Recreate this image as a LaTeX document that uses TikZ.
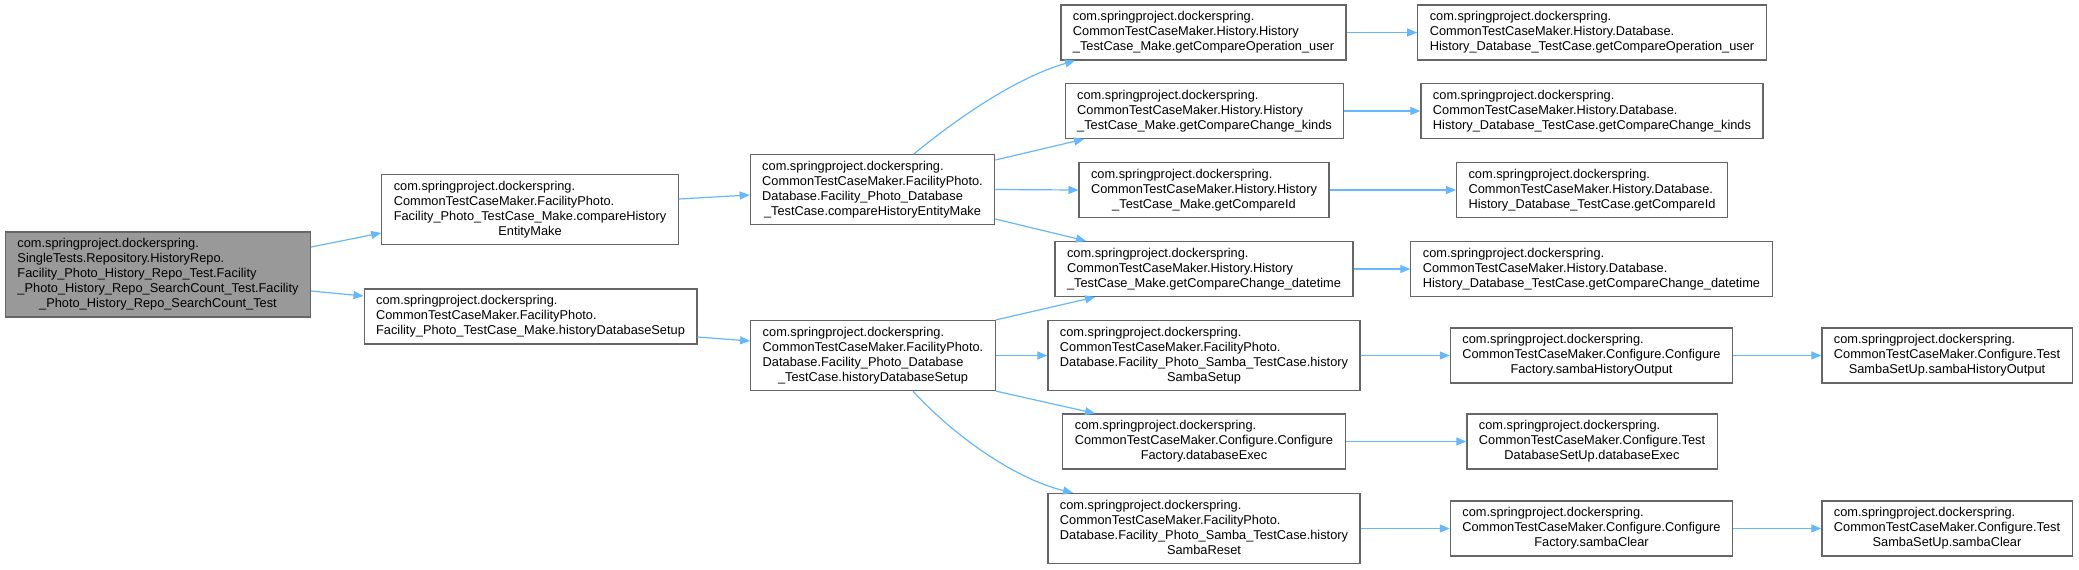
\documentclass[tikz,border=0pt]{standalone}
\usepackage{fontspec}
\setmainfont{Liberation Sans}
\usepackage{tikz}
\usepackage{xcolor}
\usetikzlibrary{arrows.meta, positioning, calc}
\definecolor{edgeblue}{HTML}{63B8FF}
\definecolor{boxgray}{HTML}{666666}
\definecolor{rootgray}{HTML}{999999}
% righe allineate a sinistra, ultima riga centrata
\newcommand{\fnlines}[2]{\begin{tabular}{@{}l@{}}#1\\\multicolumn{1}{@{}c@{}}{#2}\end{tabular}}

\begin{document}
\begin{tikzpicture}[x=0.5pt, y=-0.5pt,
    fn/.style={draw=boxgray, line width=0.6pt, fill=white, inner xsep=6pt, inner ysep=2.5pt,
               font=\fontsize{6.4pt}{7.5pt}\selectfont},
    fnroot/.style={fn, fill=rootgray},
    call/.style={draw=edgeblue, line width=0.6pt, -{Triangle[length=5pt, width=4pt]}}]
    \useasboundingbox (0,0) rectangle (2079,569);

    % ---- TEST ----
    \node[fnroot] (repotest) at (158,274.5) {\fnlines{com.springproject.dockerspring.\\SingleTests.Repository.HistoryRepo.\\Facility\_Photo\_History\_Repo\_Test.Facility\\\_Photo\_History\_Repo\_SearchCount\_Test.Facility}{\_Photo\_History\_Repo\_SearchCount\_Test}};

    % ---- TESTCASE MAKE ----
    \node[fn] (mkcompare) at (530,209.5) {\fnlines{com.springproject.dockerspring.\\CommonTestCaseMaker.FacilityPhoto.\\Facility\_Photo\_TestCase\_Make.compareHistory}{EntityMake}};
    \node[fn] (mksetup) at (530.5,316.5) {\fnlines{com.springproject.dockerspring.\\CommonTestCaseMaker.FacilityPhoto.}{Facility\_Photo\_TestCase\_Make.historyDatabaseSetup}};

    % ---- DATABASE TESTCASE ----
    \node[fn] (dbcompare) at (872.5,189.5) {\fnlines{com.springproject.dockerspring.\\CommonTestCaseMaker.FacilityPhoto.\\Database.Facility\_Photo\_Database}{\_TestCase.compareHistoryEntityMake}};
    \node[fn] (dbsetup) at (873,355.5) {\fnlines{com.springproject.dockerspring.\\CommonTestCaseMaker.FacilityPhoto.\\Database.Facility\_Photo\_Database}{\_TestCase.historyDatabaseSetup}};

    % ---- HISTORY / SAMBA / CONFIGURE ----
    \node[fn] (opuser) at (1203.5,32.5) {\fnlines{com.springproject.dockerspring.\\CommonTestCaseMaker.History.History}{\_TestCase\_Make.getCompareOperation\_user}};
    \node[fn] (chkinds) at (1204.5,111) {\fnlines{com.springproject.dockerspring.\\CommonTestCaseMaker.History.History}{\_TestCase\_Make.getCompareChange\_kinds}};
    \node[fn] (cmpid) at (1204,190) {\fnlines{com.springproject.dockerspring.\\CommonTestCaseMaker.History.History}{\_TestCase\_Make.getCompareId}};
    \node[fn] (chdate) at (1204,269) {\fnlines{com.springproject.dockerspring.\\CommonTestCaseMaker.History.History}{\_TestCase\_Make.getCompareChange\_datetime}};
    \node[fn] (sambasetup) at (1204,355.5) {\fnlines{com.springproject.dockerspring.\\CommonTestCaseMaker.FacilityPhoto.\\Database.Facility\_Photo\_Samba\_TestCase.history}{SambaSetup}};
    \node[fn] (cfexec) at (1204,441.5) {\fnlines{com.springproject.dockerspring.\\CommonTestCaseMaker.Configure.Configure}{Factory.databaseExec}};
    \node[fn] (sambareset) at (1204,528.5) {\fnlines{com.springproject.dockerspring.\\CommonTestCaseMaker.FacilityPhoto.\\Database.Facility\_Photo\_Samba\_TestCase.history}{SambaReset}};

    % ---- HISTORY DATABASE / CONFIGURE ----
    \node[fn] (dbopuser) at (1592,32.5) {\fnlines{com.springproject.dockerspring.\\CommonTestCaseMaker.History.Database.}{History\_Database\_TestCase.getCompareOperation\_user}};
    \node[fn] (dbchkinds) at (1592,111) {\fnlines{com.springproject.dockerspring.\\CommonTestCaseMaker.History.Database.}{History\_Database\_TestCase.getCompareChange\_kinds}};
    \node[fn] (dbcmpid) at (1592,190) {\fnlines{com.springproject.dockerspring.\\CommonTestCaseMaker.History.Database.}{History\_Database\_TestCase.getCompareId}};
    \node[fn] (dbchdate) at (1591.5,269) {\fnlines{com.springproject.dockerspring.\\CommonTestCaseMaker.History.Database.}{History\_Database\_TestCase.getCompareChange\_datetime}};
    \node[fn] (cfhistout) at (1591.5,355.5) {\fnlines{com.springproject.dockerspring.\\CommonTestCaseMaker.Configure.Configure}{Factory.sambaHistoryOutput}};
    \node[fn] (tdbexec) at (1592,441.5) {\fnlines{com.springproject.dockerspring.\\CommonTestCaseMaker.Configure.Test}{DatabaseSetUp.databaseExec}};
    \node[fn] (cfclear) at (1591.5,528.5) {\fnlines{com.springproject.dockerspring.\\CommonTestCaseMaker.Configure.Configure}{Factory.sambaClear}};

    % ---- TEST SETUP ----
    \node[fn] (tsamhistout) at (1947,355.5) {\fnlines{com.springproject.dockerspring.\\CommonTestCaseMaker.Configure.Test}{SambaSetUp.sambaHistoryOutput}};
    \node[fn] (tsamclear) at (1947,528.5) {\fnlines{com.springproject.dockerspring.\\CommonTestCaseMaker.Configure.Test}{SambaSetUp.sambaClear}};

    % ---- CHIAMATE ----
    \draw[call] ([yshift=13.75pt]repotest.east) -- ([yshift=-11.75pt]mkcompare.west);
    \draw[call] ([yshift=-8.25pt]repotest.east) -- ([yshift=10.25pt]mksetup.west);
    \draw[call] ([yshift=5.25pt]mkcompare.east) -- ([yshift=-2.75pt]dbcompare.west);
    \draw[call] ([yshift=-10.25pt]mksetup.east) -- ([yshift=7.25pt]dbsetup.west);

    \draw[call] ([xshift=20.75pt]dbcompare.north) .. controls (955,120) and (1015,78) .. ([xshift=-64.25pt]opuser.south);
    \draw[call] ([yshift=14.75pt]dbcompare.east) -- ([xshift=-60.25pt]chkinds.south);
    \draw[call] (dbcompare.east) -- (cmpid.west);
    \draw[call] ([yshift=-14.75pt]dbcompare.east) -- ([xshift=-59pt]chdate.north);

    \draw[call] (dbsetup.north east) -- ([xshift=-54.5pt]chdate.south);
    \draw[call] (dbsetup.east) -- (sambasetup.west);
    \draw[call] (dbsetup.south east) -- ([xshift=-54.5pt]cfexec.north);
    \draw[call] ([xshift=20pt]dbsetup.south) .. controls (950,432) and (1012,478) .. ([xshift=-65.5pt]sambareset.north);

    \draw[call] (opuser.east) -- (dbopuser.west);
    \draw[call] (chkinds.east) -- (dbchkinds.west);
    \draw[call] (cmpid.east) -- (dbcmpid.west);
    \draw[call] (chdate.east) -- (dbchdate.west);
    \draw[call] (sambasetup.east) -- (cfhistout.west);
    \draw[call] (cfexec.east) -- (tdbexec.west);
    \draw[call] (sambareset.east) -- (cfclear.west);
    \draw[call] (cfhistout.east) -- (tsamhistout.west);
    \draw[call] (cfclear.east) -- (tsamclear.west);
\end{tikzpicture}
\end{document}
